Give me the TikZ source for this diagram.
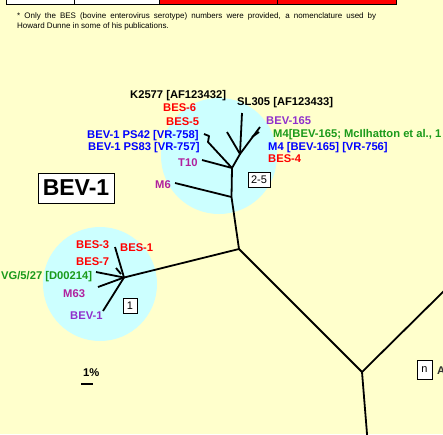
\documentclass[tikz,border=0pt]{standalone}
\usepackage{fontspec}
\setmainfont{Liberation Sans}
\definecolor{bgy}{HTML}{FFFFCC}
\definecolor{cyanc}{HTML}{CCFFFF}
\definecolor{lred}{HTML}{FF0000}
\definecolor{lblue}{HTML}{0000FF}
\definecolor{lgreen}{HTML}{1A9A1A}
\definecolor{lmag}{HTML}{B0209E}
\definecolor{lpur}{HTML}{9030CC}
\begin{document}
\begin{tikzpicture}[x=1pt,y=-1pt,
  lbl/.style={font=\fontsize{11.2}{13}\selectfont\bfseries, inner sep=0, anchor=base west},
  br/.style={line width=1.8pt, line join=round},
  numbox/.style={draw, fill=white, line width=0.8pt, font=\fontsize{11}{12}\selectfont, inner sep=0, minimum height=15pt}]
\fill[bgy] (0,0) rectangle (443,434);
\useasboundingbox (0,0) rectangle (443,434);
\clip (0,0) rectangle (443,434);
% top table
\fill[white] (6,-5) rectangle (159,4);
\fill[lred] (159,-5) rectangle (396,4);
\draw[line width=1pt] (6,-5) rectangle (396,4);
\draw[line width=1pt] (74,-5) -- (74,4) (159,-5) -- (159,4) (277,-5) -- (277,4);
% footnote
\node[inner sep=0, anchor=base west, font=\fontsize{8}{9}\selectfont] (fn1) at (17,18.5) {\makebox[359pt][s]{* Only the BES (bovine enterovirus serotype) numbers were provided, a nomenclature used by}};
\node[inner sep=0, anchor=base west, font=\fontsize{8}{9}\selectfont] (fn2) at (17,28.5) {Howard Dunne in some of his publications.};
% circles
\fill[cyanc] (219,156) circle (58);
\fill[cyanc] (100,284) circle (57);
% tree coordinates
\coordinate (N0) at (239,249);
\coordinate (P) at (362,372);
\coordinate (PR) at (452,283);
\coordinate (PD) at (367.5,440);
\coordinate (N1) at (124,277.5);
\coordinate (M) at (231.5,197);
\coordinate (B) at (232,168);
\coordinate (C) at (240,154);
\coordinate (lM6) at (175,183);
\coordinate (lT10) at (202,160);
\coordinate (lPS) at (208,142);
\coordinate (lPSa) at (209,136);
\coordinate (lPSb) at (204,134);
\coordinate (lSL) at (242,113);
\coordinate (lUL) at (227,132);
\coordinate (lUR) at (260,127);
\coordinate (fUR) at (252,137);
\coordinate (lURb) at (259,132);
\coordinate (l13) at (115,247);
\coordinate (lVG) at (96,272);
\coordinate (tB7) at (116,268);
\coordinate (eB7) at (121,274);
\coordinate (lM63) at (98,287);
\coordinate (lBEV) at (103,311);
% branches
\draw[br] (N1) -- (N0) -- (P) -- (PR);
\draw[br] (P) -- (PD);
\draw[br] (N0) -- (M) -- (B) -- (C) -- (lSL);
\draw[br] (M) -- (lM6);
\draw[br] (B) -- (lT10);
\draw[br] (B) -- (lPS) -- (lPSa) -- (lPSb);
\draw[br] (C) -- (lUL);
\draw[br] (C) -- (lUR);
\draw[br] (fUR) -- (lURb);
\draw[br] (N1) -- (l13);
\draw[br] (N1) -- (lVG);
\draw[br] (tB7) -- (eB7);
\draw[br] (N1) -- (lM63);
\draw[br] (N1) -- (lBEV);
% labels cluster 2-5
\node[lbl] (tK) at (130,98) {K2577 [AF123432]};
\node[lbl, text=lred] (tB6) at (163,111.5) {BES-6};
\node[lbl, text=lred] (tB5) at (166,125) {BES-5};
\node[lbl, text=lblue] (tP42) at (87,138) {BEV-1 PS42 [VR-758]};
\node[lbl, text=lblue] (tP83) at (88,150) {BEV-1 PS83 [VR-757]};
\node[lbl, text=lmag] (tT10) at (178,166) {T10};
\node[lbl, text=lmag] (tM6) at (155,188) {M6};
\node[lbl] (tSL) at (237,105) {SL305 [AF123433]};
\node[lbl, text=lpur] (tB165) at (266,124) {BEV-165};
\node[lbl, text=lgreen] (tM4a) at (273,137) {M4[BEV-165; McIlhatton et al., 1};
\node[lbl, text=lblue] (tM4b) at (268,150) {M4 [BEV-165] [VR-756]};
\node[lbl, text=lred] (tB4) at (268,162) {BES-4};
% labels cluster 1
\node[lbl, text=lred] (tB3) at (76,248) {BES-3};
\node[lbl, text=lred] (tB1) at (120,251) {BES-1};
\node[lbl, text=lred] (tB7) at (76,265) {BES-7};
\node[lbl, text=lgreen] (tVG) at (1,279) {VG/5/27 [D00214]};
\node[lbl, text=lmag] (tM63) at (63,297) {M63};
\node[lbl, text=lpur] (tBEV) at (70,319) {BEV-1};
% boxes
\node[numbox, minimum width=22pt] (b25) at (259,180) {2-5};
\node[numbox, minimum width=14pt] (b1) at (130,305.5) {1};
\node[numbox, minimum width=15pt, minimum height=19pt] (bn) at (424.5,369.5) {n};
\node[lbl, text=black!80, anchor=base west] (tA) at (437,374) {A};
\node[draw, fill=white, line width=1pt, minimum width=76pt, minimum height=30pt, inner sep=0,
  font=\fontsize{23}{26}\selectfont\bfseries] (bev) at (76,188) {BEV-1};
% scale bar
\node[lbl] (sc) at (83,376) {1\%};
\coordinate (sb1) at (81,384);
\coordinate (sb2) at (93,384);
\draw[line width=2pt] (sb1) -- (sb2);
\end{tikzpicture}
\end{document}
